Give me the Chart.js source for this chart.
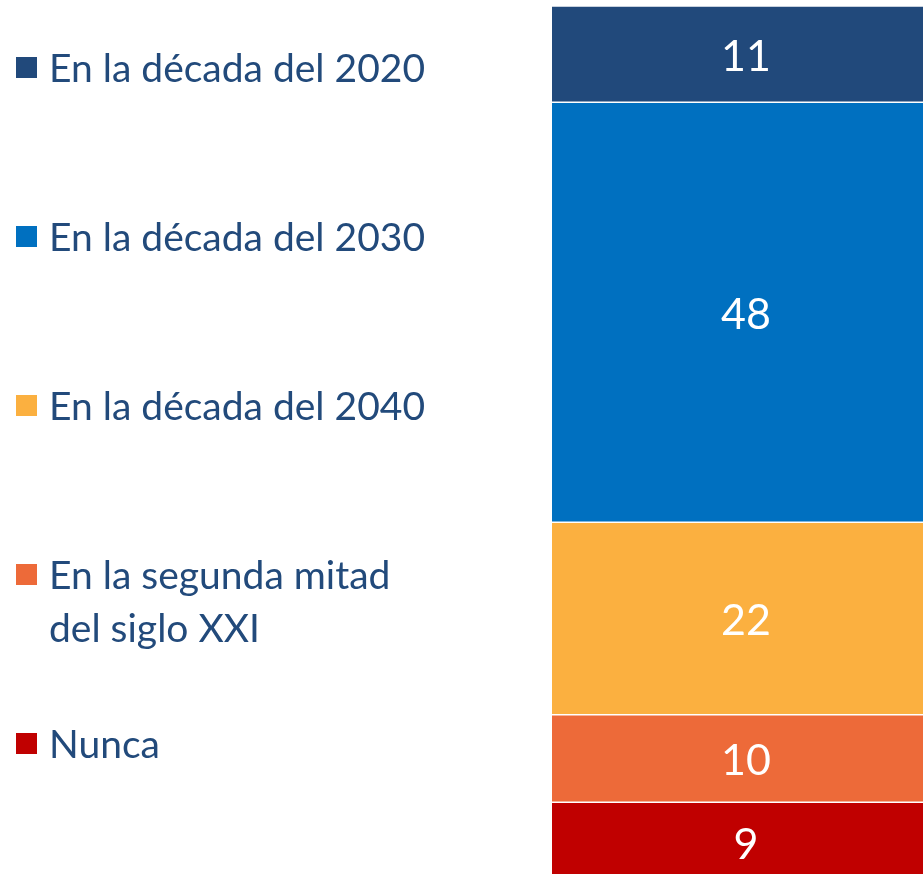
<!DOCTYPE html>
<html lang="es">
<head>
<meta charset="utf-8">
<title>Década</title>
<script src="https://cdn.jsdelivr.net/npm/chart.js@4.4.1/dist/chart.umd.min.js"></script>
<style>
  html, body { margin: 0; padding: 0; background: #fff; overflow: hidden; }
  #wrap { position: relative; width: 923px; height: 874px; overflow: hidden; }
  #chartBox { position: absolute; left: 0; top: 0; width: 940px; height: 881px; }
  #legend { position: absolute; left: 0; top: 41px; width: 480px; font-family: Lato, "Open Sans", sans-serif; font-size: 39px; color: #224a7b; }
  .item { position: relative; height: 169px; padding-left: 49px; line-height: 53px; box-sizing: border-box; }
  .item span.sq { position: absolute; left: 16px; top: 16px; width: 21px; height: 21px; }
</style>
</head>
<body>
<div id="wrap">
  <div id="chartBox"><canvas id="grafico" width="940" height="881"></canvas></div>
  <div id="legend"></div>
</div>
<script>
// datos
const categorias = ['Total'];
const series = ['En la década del 2020', 'En la década del 2030', 'En la década del 2040', 'En la segunda mitad<br>del siglo XXI', 'Nunca'];
const valores = [11, 48, 22, 10, 9];
const colores = ['#21497b', '#0070c0', '#fbb040', '#ed6a39', '#c00000'];

// leyenda a la izquierda
const legend = document.getElementById('legend');
series.forEach((s, i) => {
    const div = document.createElement('div');
    div.className = 'item';
    div.innerHTML = '<span class="sq" style="background:' + colores[i] + '"></span>' + s;
    legend.appendChild(div);
});

// etiquetas blancas en el centro de cada segmento
const etiquetas = {
    id: 'etiquetas',
    afterDatasetsDraw(chart) {
        const ctx = chart.ctx;
        ctx.save();
        ctx.fillStyle = '#fff';
        ctx.font = '43px Lato, "Open Sans", sans-serif';
        ctx.textAlign = 'center';
        ctx.textBaseline = 'middle';
        chart.data.datasets.forEach((ds, i) => {
            const el = chart.getDatasetMeta(i).data[0];
            ctx.fillText(String(ds.data[0]), el.x, (el.y + el.base) / 2 + 3);
        });
        ctx.restore();
    }
};

const ctx = document.getElementById('grafico').getContext('2d');
const chart = new Chart(ctx, {
    type: 'bar',
    data: {
        labels: categorias,
        datasets: series.map((s, i) => ({
            label: s.replace('<br>', ' '),
            data: [valores[i]],
            backgroundColor: colores[i],
            borderColor: '#fff',
            borderWidth: { top: 1, bottom: 1, left: 0, right: 0 },
            borderSkipped: false,
            categoryPercentage: 1,
            barPercentage: 1
        }))
    },
    options: {
        responsive: false,
        animation: false,
        devicePixelRatio: 1,
        layout: { padding: { left: 552, top: 6, right: 0, bottom: 0 } },
        scales: {
            x: { stacked: true, display: false },
            y: { stacked: true, display: false, min: 0, max: 100, reverse: true }
        },
        plugins: {
            legend: { display: false },
            tooltip: { enabled: false }
        }
    },
    plugins: [etiquetas]
});
</script>
</body>
</html>
